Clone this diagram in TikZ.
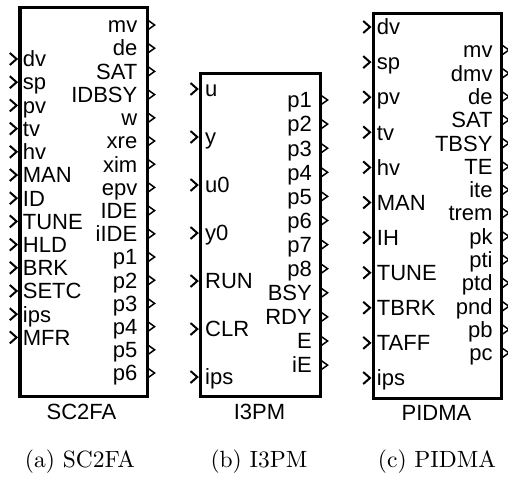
\documentclass[tikz,border=0pt]{standalone}
\usepackage{fontspec}
\newfontfamily\arialf{Liberation Sans}
\newfontfamily\lmten{lmroman10-regular.otf}
\begin{document}
\begin{tikzpicture}[x=1pt,y=-1pt,
  blk/.style={draw=black, line width=3.2pt, fill=white, inner sep=0pt, anchor=north west},
  inl/.style={anchor=base west, inner sep=0pt, font=\arialf\fontsize{22}{24}\selectfont},
  outl/.style={anchor=base east, inner sep=0pt, font=\arialf\fontsize{22}{24}\selectfont},
  ttl/.style={anchor=center, inner sep=0pt, font=\arialf\fontsize{22}{24}\selectfont},
  captxt/.style={anchor=center, inner sep=0pt, font=\lmten\fontsize{23.5}{26}\selectfont},
  chev/.style={line width=2pt},
  otri/.style={line width=1.5pt, line join=miter}]
\useasboundingbox (0,0) rectangle (508,484);

% ---------- SC2FA ----------
\node[blk, minimum width=127.4pt, minimum height=388.8pt] (A) at (18.3,5.7) {};
\foreach \t [count=\i from 0] in {dv,sp,pv,tv,hv,MAN,ID,TUNE,HLD,BRK,SETC,ips,MFR}{
  \pgfmathsetmacro\yy{59+23.2*\i}
  \draw[chev] (9.8,\yy-6) -- (16.6,\yy) -- (9.8,\yy+6);
  \node[inl] (ain\i) at (22.7,\yy+7.8) {\t};
}
\foreach \t [count=\i from 0] in {mv,de,SAT,IDBSY,w,xre,xim,epv,IDE,iIDE,p1,p2,p3,p4,p5,p6}{
  \pgfmathsetmacro\yy{25+23.2*\i}
  \draw[otri] (147.6,\yy-5) -- (154.6,\yy) -- (147.6,\yy+5) -- cycle;
  \node[outl] (aout\i) at (137.5,\yy+7.8) {\t};
}
\node[ttl] (Aname) at (81.5,412) {SC2FA};

% ---------- I3PM ----------
\node[blk, minimum width=119.7pt, minimum height=322.2pt] (B) at (199,72.3) {};
\foreach \t [count=\i from 0] in {u,y,u0,y0,RUN,CLR,ips}{
  \pgfmathsetmacro\yy{89+48*\i}
  \draw[chev] (190.5,\yy-6) -- (197.3,\yy) -- (190.5,\yy+6);
  \node[inl] (bin\i) at (205,\yy+7.8) {\t};
}
\foreach \t [count=\i from 0] in {p1,p2,p3,p4,p5,p6,p7,p8,BSY,RDY,E,iE}{
  \pgfmathsetmacro\yy{100+24.1*\i}
  \draw[otri] (320.6,\yy-5) -- (327.6,\yy) -- (320.6,\yy+5) -- cycle;
  \node[outl] (bout\i) at (312,\yy+7.8) {\t};
}
\node[ttl] (Bname) at (259.5,412) {I3PM};

% ---------- PIDMA ----------
\node[blk, minimum width=128.3pt, minimum height=384.7pt] (C) at (371.7,12.3) {};
\foreach \t [count=\i from 0] in {dv,sp,pv,tv,hv,MAN,IH,TUNE,TBRK,TAFF,ips}{
  \pgfmathsetmacro\yy{27+35.1*\i}
  \draw[chev] (363.2,\yy-6) -- (370,\yy) -- (363.2,\yy+6);
  \node[inl] (cin\i) at (376.7,\yy+7.8) {\t};
}
\foreach \t [count=\i from 0] in {mv,dmv,de,SAT,TBSY,TE,ite,trem,pk,pti,ptd,pnd,pb,pc}{
  \pgfmathsetmacro\yy{50+23.3*\i}
  \draw[otri] (501.9,\yy-5) -- (508.9,\yy) -- (501.9,\yy+5) -- cycle;
  \node[outl] (cout\i) at (492.7,\yy+7.8) {\t};
}
\node[ttl] (Cname) at (436.5,413) {PIDMA};

% ---------- captions ----------
\node[captxt] (capa) at (80,462) {(a) SC2FA};
\node[captxt] (capb) at (259,462) {(b) I3PM};
\node[captxt] (capc) at (437,462) {(c) PIDMA};
\end{tikzpicture}
\end{document}
